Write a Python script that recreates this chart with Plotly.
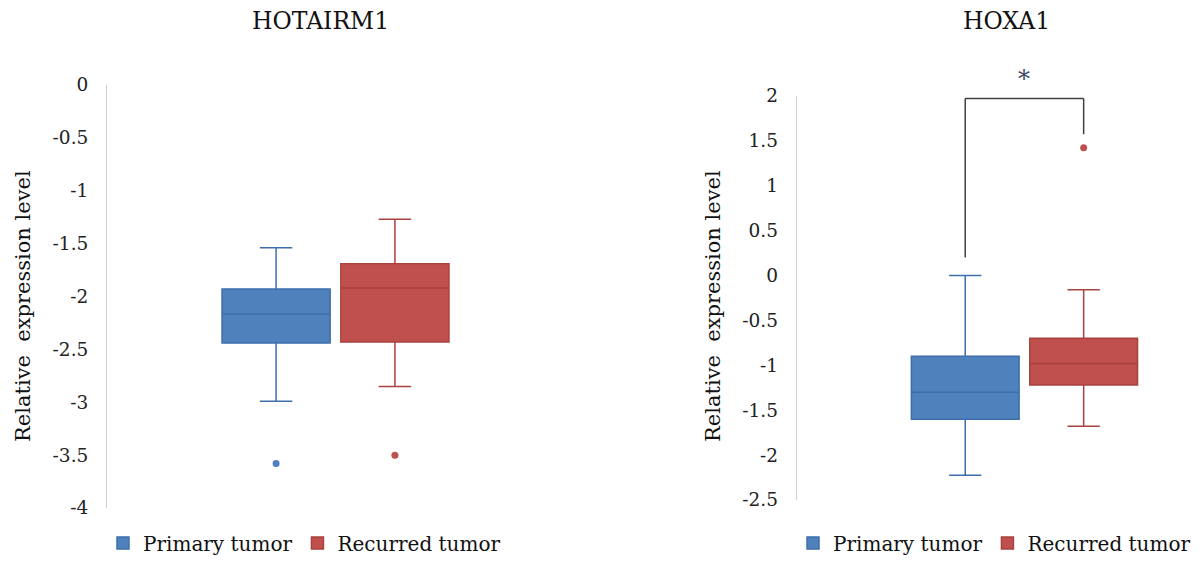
import plotly.graph_objects as go

# ---------------- data ----------------
groups = ["Primary tumor", "Recurred tumor"]
colors = ["#4F81BD", "#C0504D"]
line_colors = ["#3F6FAA", "#A9423F"]

# HOTAIRM1
hot_q1 = [-2.44, -2.43]
hot_median = [-2.165, -1.92]
hot_q3 = [-1.93, -1.69]
hot_low = [-2.99, -2.85]
hot_high = [-1.54, -1.27]
hot_outliers = [[-3.58], [-3.50]]

# HOXA1
hox_q1 = [-1.60, -1.22]
hox_median = [-1.30, -0.98]
hox_q3 = [-0.90, -0.70]
hox_low = [-2.225, -1.68]
hox_high = [0.0, -0.16]
hox_outliers = [[], [1.42]]

# tick labels
hot_ticks = [0, -0.5, -1, -1.5, -2, -2.5, -3, -3.5, -4]
hot_ticktext = ["0", "-0.5", "-1", "-1.5", "-2", "-2.5", "-3", "-3.5", "-4"]
hox_ticks = [2, 1.5, 1, 0.5, 0, -0.5, -1, -1.5, -2, -2.5]
hox_ticktext = ["2", "1.5", "1", "0.5", "0", "-0.5", "-1", "-1.5", "-2", "-2.5"]

# significance bracket (HOXA1): left-leg bottom, top, right-leg bottom
bracket_y = [0.20, 1.97, 1.57]
sig_label = "*"

titles = ["HOTAIRM1", "HOXA1"]
ytitle = "Relative  expression level"
CAT = "g"

# ---------------- styling ----------------
FONT = "DejaVu Serif"
BOXGAP = 0.48
BOXGROUPGAP = 0.09
PAGE_OFF = 8          # default body margin of the page
W, H = 1203 - PAGE_OFF, 565 - PAGE_OFF


def fx(px):
    return (px - PAGE_OFF) / W


def fy(py):
    return 1 - (py - PAGE_OFF) / H


fig = go.Figure()

panels = [
    ("x", "y", "legend", "a1", hot_q1, hot_median, hot_q3, hot_low, hot_high, hot_outliers),
    ("x2", "y2", "legend2", "a2", hox_q1, hox_median, hox_q3, hox_low, hox_high, hox_outliers),
]
for xa, ya, lg, ag, q1, med, q3, lo, hi, outl in panels:
    for i, g in enumerate(groups):
        kw = {}
        if outl[i]:
            kw["y"] = [outl[i]]
            kw["boxpoints"] = "outliers"
        else:
            kw["boxpoints"] = False
        fig.add_trace(go.Box(
            name=g, x=[CAT],
            q1=[q1[i]], median=[med[i]], q3=[q3[i]],
            lowerfence=[lo[i]], upperfence=[hi[i]],
            fillcolor=colors[i],
            line=dict(color=line_colors[i], width=1.5),
            marker=dict(color=colors[i], size=7, line=dict(width=0)),
            whiskerwidth=0.3,
            offsetgroup=g, alignmentgroup=ag,
            xaxis=xa, yaxis=ya, legend=lg,
            showlegend=True, hoverinfo="skip",
            **kw,
        ))

# bracket
off = 0.25 * (1 - BOXGAP)
br_line = dict(color="#404040", width=1.5)
fig.add_shape(type="line", xref="x2", yref="y2", x0=-off, x1=-off, y0=bracket_y[0], y1=bracket_y[1], line=br_line)
fig.add_shape(type="line", xref="x2", yref="y2", x0=-off, x1=off, y0=bracket_y[1], y1=bracket_y[1], line=br_line)
fig.add_shape(type="line", xref="x2", yref="y2", x0=off, x1=off, y0=bracket_y[2], y1=bracket_y[1], line=br_line)
fig.add_annotation(text=sig_label, xref="x2", yref="y2", x=0, y=bracket_y[1], yanchor="bottom",
                   yshift=3, showarrow=False, font=dict(family=FONT, size=24, color="#3F4A5F"))

# titles
for t, xc in zip(titles, (320, 1007)):
    fig.add_annotation(text=t, xref="paper", yref="paper", x=fx(xc), y=fy(21),
                       xanchor="center", yanchor="middle", showarrow=False,
                       font=dict(family=FONT, size=23.5, color="#111"))
# y titles
for xc in (23, 713):
    fig.add_annotation(text=ytitle, xref="paper", yref="paper", x=fx(xc), y=fy(306),
                       xanchor="center", yanchor="middle", textangle=-90, showarrow=False,
                       font=dict(family=FONT, size=21, color="#111"))

axis_common = dict(showgrid=False, zeroline=False)
fig.update_layout(
    width=W, height=H,
    margin=dict(l=0, r=0, t=0, b=0, autoexpand=False),
    paper_bgcolor="white", plot_bgcolor="white",
    boxmode="group", boxgap=BOXGAP, boxgroupgap=BOXGROUPGAP,
    font=dict(family=FONT, color="#111"),
    xaxis=dict(domain=[fx(107), fx(564)], range=[-0.5, 0.5], showticklabels=False,
               showline=False, ticks="", **axis_common),
    xaxis2=dict(domain=[fx(796.7), 1.0], range=[-0.5, 0.392], showticklabels=False,
                showline=False, ticks="", **axis_common),
    yaxis=dict(domain=[fy(508), fy(85)], range=[-4, 0], anchor="x",
               tickvals=hot_ticks, ticktext=hot_ticktext, ticks="", ticklabelstandoff=14,
               showline=True, linecolor="#CFCFCF", linewidth=1,
               tickfont=dict(family=FONT, size=18.5, color="#222"), **axis_common),
    yaxis2=dict(domain=[fy(500), fy(95.7)], range=[-2.5, 2], anchor="x2",
                tickvals=hox_ticks, ticktext=hox_ticktext, ticks="", ticklabelstandoff=14,
                showline=True, linecolor="#CFCFCF", linewidth=1,
                tickfont=dict(family=FONT, size=18.5, color="#222"), **axis_common),
    legend=dict(orientation="h", x=fx(103), y=fy(543), xanchor="left", yanchor="middle",
                font=dict(family=FONT, size=20, color="#111"), bgcolor="rgba(0,0,0,0)"),
    legend2=dict(orientation="h", x=fx(793), y=fy(543), xanchor="left", yanchor="middle",
                 font=dict(family=FONT, size=20, color="#111"), bgcolor="rgba(0,0,0,0)"),
)

fig.write_html("out.html")
